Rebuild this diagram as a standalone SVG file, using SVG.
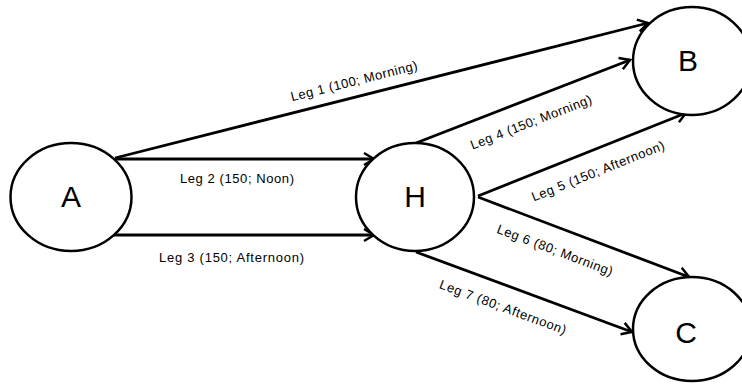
<svg xmlns="http://www.w3.org/2000/svg" width="742" height="387" viewBox="0 0 742 387">
<style>
.node{fill:#fff;stroke:#000;stroke-width:2.5}
.nl{font-family:"Liberation Sans",Arial,sans-serif;font-size:30px;text-anchor:middle;fill:#000}
.edge{stroke:#000;stroke-width:2.8;fill:none;marker-end:url(#arr)}
.lbl{font-family:"Liberation Sans",Arial,sans-serif;font-size:13px;text-anchor:middle;fill:#000}
</style>
<defs>
<marker id="arr" markerUnits="userSpaceOnUse" markerWidth="16" markerHeight="16" refX="12" refY="7" orient="auto" overflow="visible">
<path d="M2,1 L12,7 L2,13" fill="none" stroke="#000" stroke-width="2.5" stroke-linejoin="miter"/>
</marker>
</defs>
<rect width="742" height="387" fill="#fff"/>
<g id="connectors">
<line class="edge" x1="115" y1="158" x2="648" y2="23"/>
<line class="edge" x1="115" y1="159" x2="374" y2="159"/>
<line class="edge" x1="114" y1="235" x2="374" y2="235"/>
<line class="edge" x1="416" y1="143" x2="630" y2="60"/>
<line class="edge" x1="478" y1="196" x2="686" y2="113"/>
<line class="edge" x1="478" y1="197" x2="689" y2="277"/>
<line class="edge" x1="416" y1="252" x2="632" y2="332"/>
<text class="lbl" transform="translate(354,81) rotate(-14.2)" dy="0.35em" textLength="130">Leg 1 (100; Morning)</text>
<text class="lbl" x="237" y="178" dy="0.35em" textLength="114">Leg 2 (150; Noon)</text>
<text class="lbl" x="231.5" y="257" dy="0.35em" textLength="145">Leg 3 (150; Afternoon)</text>
<text class="lbl" transform="translate(531,122) rotate(-21.3)" dy="0.35em" textLength="129">Leg 4 (150; Morning)</text>
<text class="lbl" transform="translate(598,171) rotate(-21.8)" dy="0.35em" textLength="142">Leg 5 (150; Afternoon)</text>
<text class="lbl" transform="translate(555,250) rotate(20.8)" dy="0.35em" textLength="123">Leg 6 (80; Morning)</text>
<text class="lbl" transform="translate(503,307) rotate(20.3)" dy="0.35em" textLength="134">Leg 7 (80; Afternoon)</text>
</g>
<g id="node-A">
<ellipse class="node" cx="71" cy="197" rx="60.5" ry="54"/>
<text class="nl" x="71" y="207">A</text>
</g>
<g id="node-H">
<ellipse class="node" cx="415" cy="197" rx="59" ry="54"/>
<text class="nl" x="415" y="207">H</text>
</g>
<g id="node-B">
<ellipse class="node" cx="692" cy="61" rx="59" ry="54"/>
<text class="nl" x="688" y="71">B</text>
</g>
<g id="node-C">
<ellipse class="node" cx="692" cy="329" rx="59" ry="52"/>
<text class="nl" x="686" y="343">C</text>
</g>
</svg>
